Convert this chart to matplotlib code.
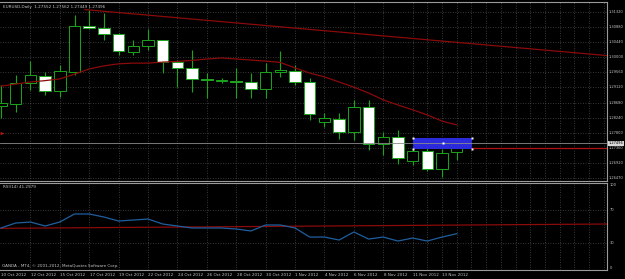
import matplotlib
matplotlib.use("Agg")
import matplotlib.pyplot as plt
from matplotlib.patches import Rectangle

BG = "#000000"
GRID = "#4a4a4a"
EDGE = "#1aa51a"
RED = "#8b0a0a"
RSI_BLUE = "#1f5f9f"
TEXT = "#c4c4c4"

# daily candles, one per bar index
OPENS = [1.2858, 1.2864, 1.2925, 1.2946, 1.2902, 1.2957, 1.3090, 1.3085, 1.3068, 1.3015, 1.3033,
         1.3050, 1.2986, 1.2969, 1.2937, 1.2931, 1.2932, 1.2928, 1.2908, 1.2957, 1.2960, 1.2928,
         1.2811, 1.2820, 1.2782, 1.2855, 1.2747, 1.2768, 1.2698, 1.2727, 1.2675, 1.2724]
HIGHS = [1.2919, 1.2948, 1.2989, 1.2957, 1.2978, 1.3123, 1.3138, 1.3129, 1.3071, 1.3050, 1.3083,
         1.3050, 1.2992, 1.3021, 1.2954, 1.2940, 1.2969, 1.2954, 1.2983, 1.3018, 1.2978, 1.2940,
         1.2838, 1.2838, 1.2876, 1.2876, 1.2782, 1.2788, 1.2736, 1.2736, 1.2733, 1.2762]
LOWS = [1.2823, 1.2841, 1.2905, 1.2890, 1.2884, 1.2948, 1.3083, 1.3050, 1.3007, 1.3007, 1.3021,
        1.2954, 1.2914, 1.2899, 1.2881, 1.2926, 1.2881, 1.2881, 1.2881, 1.2943, 1.2919, 1.2817,
        1.2797, 1.2762, 1.2759, 1.2730, 1.2715, 1.2689, 1.2686, 1.2669, 1.2651, 1.2701]
CLOSES = [1.2867, 1.2925, 1.2948, 1.2902, 1.2960, 1.3091, 1.3086, 1.3068, 1.3018, 1.3033, 1.3050,
          1.2986, 1.2969, 1.2937, 1.2934, 1.2934, 1.2929, 1.2908, 1.2957, 1.2963, 1.2928, 1.2835,
          1.2823, 1.2782, 1.2855, 1.2747, 1.2768, 1.2707, 1.2727, 1.2675, 1.2721, 1.2750]
MA = [1.2916, 1.2922, 1.2928, 1.2932, 1.2937, 1.2951, 1.2966, 1.2975, 1.2981, 1.2983, 1.2983,
      1.2986, 1.2988, 1.2991, 1.2995, 1.2998, 1.2995, 1.2992, 1.2989, 1.2985, 1.2969, 1.2954,
      1.2943, 1.2928, 1.2913, 1.2896, 1.2876, 1.2861, 1.2847, 1.2832, 1.2814, 1.2803]
RSI = [48.2, 54.2, 55.4, 50.6, 55.4, 65.1, 65.1, 61.4, 56.6, 57.8, 59.0, 53.0, 50.6, 48.2, 48.2,
       48.2, 47.0, 44.6, 51.8, 51.8, 48.2, 37.3, 37.3, 33.7, 43.4, 34.9, 37.3, 32.5, 36.1, 32.5,
       37.3, 41.3]

DATE_LABELS = ["10 Oct 2012", "12 Oct 2012", "15 Oct 2012", "17 Oct 2012", "19 Oct 2012",
               "22 Oct 2012", "24 Oct 2012", "26 Oct 2012", "28 Oct 2012", "30 Oct 2012",
               "1 Nov 2012", "4 Nov 2012", "6 Nov 2012", "8 Nov 2012", "11 Nov 2012", "13 Nov 2012"]
PRICE_TICKS = [1.31320, 1.30880, 1.30440, 1.30000, 1.29560, 1.29120, 1.28680, 1.28240,
               1.27800, 1.27360, 1.26920, 1.26470]
RSI_TICKS = [100, 70, 30, 0]

# drawn objects
TREND_X = [5.71, 41.22]
TREND_Y = [1.3139, 1.3005]
RSI_TREND_X = [-0.07, 41.22]
RSI_TREND_Y = [47.8, 53.0]
ZONE = (28.03, 32.04, 1.27328, 1.27648)
LEVEL = 1.27357
BID = 1.27496

W, H = 625, 279
fig = plt.figure(figsize=(W / 100, H / 100), dpi=100, facecolor=BG)
ax = fig.add_axes([0, 1 - 181 / H, 607 / W, 179.5 / H], facecolor=BG)
rs = fig.add_axes([0, 1 - 270 / H, 607 / W, 87.5 / H], facecolor=BG)

xmin, xmax = -0.068, 41.22
for a in (ax, rs):
    a.set_xlim(xmin, xmax)
    a.set_xticks([])
    a.set_yticks([])
    for side in ("top", "bottom", "right"):
        a.spines[side].set_color("#9a9a9a")
        a.spines[side].set_linewidth(0.8)
    a.spines["left"].set_visible(False)

ax.set_ylim(1.26395, 1.31626)
rs.set_ylim(-2.4, 103)

# grid
vgrid = list(range(2, 29, 2)) + list(range(29, 42))
for a in (ax, rs):
    for g in vgrid:
        a.axvline(g, color=GRID, lw=0.6, ls=(0, (1, 2)), zorder=0)
for p in PRICE_TICKS:
    ax.axhline(p, color=GRID, lw=0.6, ls=(0, (1, 2)), zorder=0)
for r in (70, 30):
    rs.axhline(r, color=GRID, lw=0.6, ls=(0, (1, 2)), zorder=0)

# candles
for i, (o, h, l, c) in enumerate(zip(OPENS, HIGHS, LOWS, CLOSES)):
    ax.vlines(i, l, h, color=EDGE, lw=0.8, zorder=2)
    fill = "white" if c < o else "black"
    ax.add_patch(Rectangle((i - 0.39, min(o, c)), 0.78, max(abs(c - o), 0.00004),
                           facecolor=fill, edgecolor=EDGE, lw=0.7, zorder=3))

ax.plot(range(len(MA)), MA, color=RED, lw=0.9, zorder=4)
ax.plot(TREND_X, TREND_Y, color=RED, lw=0.9, zorder=4)

x0, x1, y0, y1 = ZONE
ax.add_patch(Rectangle((x0, y0), x1 - x0, y1 - y0, facecolor="#2b2bdc", edgecolor="none", zorder=5))
ax.plot([x1, xmax], [LEVEL, LEVEL], color="#b01010", lw=0.9, zorder=4)
ax.axhline(BID, color="#8c8c8c", lw=0.6, zorder=6)
for mx, my in [(x0, y0), (x0, y1), (x1, y0), (x1, y1), ((x0 + x1) / 2, (y0 + y1) / 2)]:
    ax.plot(mx, my, marker="s", ms=1.6, color="white", mec="none", zorder=7)
ax.plot(0.05, 1.2780, marker=">", ms=2.5, color="#c01010", mec="none", zorder=7)

rs.plot(range(len(RSI)), RSI, color=RSI_BLUE, lw=0.9, zorder=4)
rs.plot(RSI_TREND_X, RSI_TREND_Y, color=RED, lw=0.9, zorder=3)

fs = 3.0
ax.text(3 / 607, 1 - 3.5 / 179.5, "EURUSD,Daily  1.27552 1.27562 1.27449 1.27496", transform=ax.transAxes,
        color=TEXT, fontsize=fs, va="top", ha="left")
rs.text(3 / 607, 1 - 2 / 87.5, "RSI(14) 41.2979", transform=rs.transAxes,
        color=TEXT, fontsize=fs, va="top", ha="left")
rs.text(2 / 607, 2.5 / 87.5, "OANDA - MT4, \u00a9 2001-2012, MetaQuotes Software Corp.", transform=rs.transAxes,
        color=TEXT, fontsize=fs, va="bottom", ha="left")

ts = 2.6
for p in PRICE_TICKS:
    ax.annotate(f"{p:.5f}", xy=(1, p), xycoords=("axes fraction", "data"), xytext=(1.2, 0),
                textcoords="offset points", color=TEXT, fontsize=ts, va="center", ha="left",
                annotation_clip=False)
ax.annotate(f"{BID:.5f}", xy=(1, BID), xycoords=("axes fraction", "data"), xytext=(1.0, 0),
            textcoords="offset points", color="black", fontsize=ts, va="center", ha="left",
            annotation_clip=False, bbox=dict(boxstyle="square,pad=0.1", fc="#d8d8d8", ec="none"))
for r in RSI_TICKS:
    rs.annotate(str(r), xy=(1, r), xycoords=("axes fraction", "data"), xytext=(2, 0),
                textcoords="offset points", color=TEXT, fontsize=ts, va="center", ha="left",
                annotation_clip=False)

for k, lab in enumerate(DATE_LABELS):
    rs.annotate(lab, xy=(2 * k, 0), xycoords=("data", "axes fraction"), xytext=(0.3, -2.5),
                textcoords="offset points", color=TEXT, fontsize=fs, va="top", ha="left",
                annotation_clip=False)

fig.savefig("out.png", dpi=100, facecolor=BG)
